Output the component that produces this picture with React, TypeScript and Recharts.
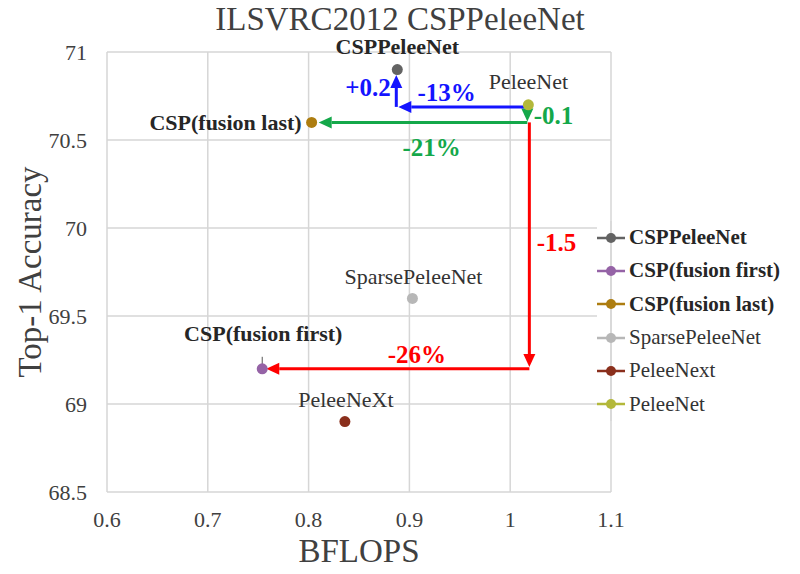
import React from 'react';
import {
  ScatterChart,
  Scatter,
  XAxis,
  YAxis,
  CartesianGrid,
  Legend,
  ReferenceLine,
  ReferenceDot,
} from 'recharts';

const xTicks = [0.6, 0.7, 0.8, 0.9, 1.0, 1.1];
const yTicks = [68.5, 69, 69.5, 70, 70.5, 71];

// legend names, in legend order
const models = [
  'CSPPeleeNet',
  'CSP(fusion first)',
  'CSP(fusion last)',
  'SparsePeleeNet',
  'PeleeNext',
  'PeleeNet',
];
// text written next to each point
const pointLabels = [
  'CSPPeleeNet',
  'CSP(fusion first)',
  'CSP(fusion last)',
  'SparsePeleeNet',
  'PeleeNeXt',
  'PeleeNet',
];
const bflops = [0.888, 0.754, 0.803, 0.903, 0.836, 1.018];
const top1 = [70.9, 69.2, 70.6, 69.6, 68.9, 70.7];

const colors = ['#636363', '#9563a6', '#ad7d10', '#b7b7b7', '#8a2f1c', '#b3b83a'];
const bold = [true, true, true, false, false, false];

const BLUE = '#1414ff';
const GREEN = '#14a84a';
const RED = '#ff0000';

// arrows drawn in data units: [x1, y1, x2, y2]
const redArrows = [
  [1.019, 70.6, 1.019, 69.21],
  [1.019, 69.2, 0.758, 69.2],
];
const greenArrows = [
  [1.017, 70.69, 1.017, 70.605],
  [1.017, 70.6, 0.81, 70.6],
];
const blueArrows = [
  [1.015, 70.688, 0.889, 70.688],
  [0.887, 70.688, 0.887, 70.87],
];

// change annotations
const notes = [
  { text: '+0.2', x: 0.859, y: 70.8, color: BLUE },
  { text: '-13%', x: 0.937, y: 70.77, color: BLUE },
  { text: '-0.1', x: 1.043, y: 70.64, color: GREEN },
  { text: '-21%', x: 0.922, y: 70.46, color: GREEN },
  { text: '-1.5', x: 1.046, y: 69.915, color: RED },
  { text: '-26%', x: 0.9075, y: 69.28, color: RED },
];

const FONT = "'Liberation Serif', 'Times New Roman', serif";

// where each point's label sits relative to the dot
const labelPlace: Record<string, { dx: number; dy: number; anchor: string; stem?: boolean }> = {
  CSPPeleeNet: { dx: 0, dy: -23, anchor: 'middle' },
  'CSP(fusion first)': { dx: 1, dy: -35, anchor: 'middle', stem: true },
  'CSP(fusion last)': { dx: -10, dy: 0, anchor: 'end' },
  SparsePeleeNet: { dx: 1, dy: -22, anchor: 'middle' },
  PeleeNeXt: { dx: 1, dy: -22, anchor: 'middle' },
  PeleeNet: { dx: 0, dy: -23, anchor: 'middle' },
};

const series = models.map((name, i) => ({
  name,
  color: colors[i],
  bold: bold[i],
  data: [{ x: bflops[i], y: top1[i], label: pointLabels[i], bold: bold[i] }],
}));

const fmt = (v: number) => String(+v.toFixed(1));

function arrowShape(color: string) {
  return (props: any) => {
    const { x1, y1, x2, y2 } = props;
    const dx = x2 - x1;
    const dy = y2 - y1;
    const len = Math.hypot(dx, dy) || 1;
    const ux = dx / len;
    const uy = dy / len;
    const head = 13;
    const half = 6;
    const bx = x2 - ux * head;
    const by = y2 - uy * head;
    const px = -uy;
    const py = ux;
    return (
      <g>
        <line x1={x1} y1={y1} x2={bx} y2={by} stroke={color} strokeWidth={3} />
        <polygon
          points={`${x2},${y2} ${bx + px * half},${by + py * half} ${bx - px * half},${by - py * half}`}
          fill={color}
        />
      </g>
    );
  };
}

function PointShape(props: any) {
  const { cx, cy, fill, payload } = props;
  const p = labelPlace[payload.label];
  return (
    <g>
      {p.stem && <line x1={cx} y1={cy} x2={cx} y2={cy - 12} stroke="#555" strokeWidth={1} />}
      <circle cx={cx} cy={cy} r={5.5} fill={fill} />
      <text
        x={cx + p.dx}
        y={cy + p.dy}
        textAnchor={p.anchor}
        dominantBaseline="central"
        fontFamily={FONT}
        fontSize={22}
        fontWeight={payload.bold ? 'bold' : 'normal'}
        fill={payload.bold ? '#262626' : '#333'}
      >
        {payload.label}
      </text>
    </g>
  );
}

function LegendBox() {
  return (
    <div style={{ position: 'relative', background: '#fff', height: 200, fontFamily: FONT }}>
      <div
        style={{ position: 'absolute', left: 13, top: 0, width: 2, height: 200, background: '#d9d9d9' }}
      />
      <div style={{ position: 'absolute', left: 0, top: 0 }}>
        {series.map((s) => (
          <div
            key={s.name}
            style={{ display: 'flex', alignItems: 'center', height: 33.3, whiteSpace: 'nowrap' }}
          >
            <svg width={32} height={14}>
              <line x1={0} y1={7} x2={28} y2={7} stroke={s.color} strokeWidth={2.5} />
              <circle cx={14} cy={7} r={5} fill={s.color} />
            </svg>
            <span
              style={{
                fontSize: 21,
                fontWeight: s.bold ? 'bold' : 'normal',
                color: s.bold ? '#262626' : '#333',
              }}
            >
              {s.name}
            </span>
          </div>
        ))}
      </div>
    </div>
  );
}

export default function App() {
  return (
    <div style={{ position: 'relative', width: 800, height: 574, margin: -8, background: '#fff' }}>
      <div
        style={{
          position: 'absolute',
          left: 0,
          top: 0,
          width: 800,
          textAlign: 'center',
          fontFamily: FONT,
          fontSize: 33,
          color: '#404040',
          lineHeight: '38px',
        }}
      >
        ILSVRC2012 CSPPeleeNet
      </div>
      <ScatterChart
        width={800}
        height={574}
        margin={{ top: 52, right: 189, bottom: 0, left: 0 }}
        style={{ position: 'absolute', left: 0, top: 0 }}
      >
        <CartesianGrid stroke="#d6d6d6" strokeWidth={1.5} />
        <XAxis
          type="number"
          dataKey="x"
          domain={[0.6, 1.1]}
          ticks={xTicks}
          tickFormatter={fmt}
          height={82}
          axisLine={false}
          tickLine={false}
          tickMargin={13}
          tick={{ fontFamily: FONT, fontSize: 22, fill: '#404040' }}
          label={{
            value: 'BFLOPS',
            position: 'center',
            dy: 17,
            style: { fontFamily: FONT, fontSize: 33, fill: '#404040' },
          }}
        />
        <YAxis
          type="number"
          dataKey="y"
          domain={[68.5, 71]}
          ticks={yTicks}
          tickFormatter={fmt}
          width={107}
          axisLine={false}
          tickLine={false}
          tickMargin={14}
          tick={{ fontFamily: FONT, fontSize: 22, fill: '#404040' }}
          label={{
            value: 'Top-1 Accuracy',
            angle: -90,
            position: 'center',
            dx: -24,
            style: { fontFamily: FONT, fontSize: 33, fill: '#404040', textAnchor: 'middle' },
          }}
        />
        {redArrows.map((a, i) => (
          <ReferenceLine
            key={'r' + i}
            segment={[{ x: a[0], y: a[1] }, { x: a[2], y: a[3] }]}
            shape={arrowShape(RED)}
            ifOverflow="visible"
          />
        ))}
        {greenArrows.map((a, i) => (
          <ReferenceLine
            key={'g' + i}
            segment={[{ x: a[0], y: a[1] }, { x: a[2], y: a[3] }]}
            shape={arrowShape(GREEN)}
            ifOverflow="visible"
          />
        ))}
        {blueArrows.map((a, i) => (
          <ReferenceLine
            key={'b' + i}
            segment={[{ x: a[0], y: a[1] }, { x: a[2], y: a[3] }]}
            shape={arrowShape(BLUE)}
            ifOverflow="visible"
          />
        ))}
        {notes.map((n) => (
          <ReferenceDot
            key={n.text}
            x={n.x}
            y={n.y}
            r={0}
            ifOverflow="visible"
            shape={(p: any) => (
              <text
                x={p.cx}
                y={p.cy}
                textAnchor="middle"
                dominantBaseline="central"
                fontFamily={FONT}
                fontSize={25}
                fontWeight="bold"
                fill={n.color}
              >
                {n.text}
              </text>
            )}
          />
        ))}
        {series.map((s) => (
          <Scatter
            key={s.name}
            name={s.name}
            data={s.data}
            fill={s.color}
            shape={PointShape}
            isAnimationActive={false}
          />
        ))}
        <Legend
          layout="vertical"
          align="center"
          verticalAlign="middle"
          wrapperStyle={{ left: 597, top: 221, width: 203, height: 200 }}
          content={() => <LegendBox />}
        />
      </ScatterChart>
    </div>
  );
}
